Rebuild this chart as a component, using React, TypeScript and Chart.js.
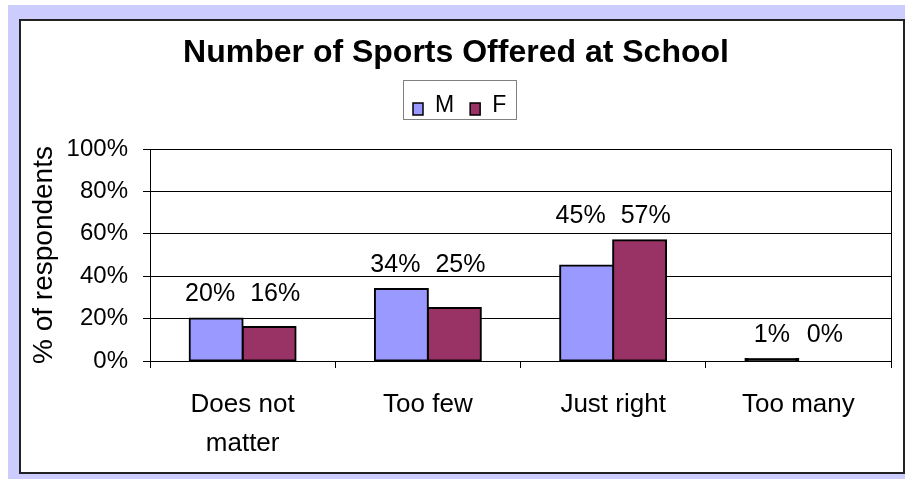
import React, { useEffect, useRef } from 'react';
import { Chart, registerables } from 'chart.js';

Chart.register(...registerables);

const categories: (string | string[])[] = [['Does not', 'matter'], 'Too few', 'Just right', 'Too many'];
const seriesNames = ['M', 'F'];
const maleValues = [20, 34, 45, 1];
const femaleValues = [16, 25, 57, 0];
const yTicks = [0, 20, 40, 60, 80, 100];
const chartTitle = 'Number of Sports Offered at School';
const yAxisTitle = '% of respondents';

const FONT = '"Liberation Sans", Arial, sans-serif';
const SERIES_COLORS = ['#9999FF', '#993366'];

// a bar thinner than its own outline shows only the outline (black)
const fillFor = (color: string) => (c: any) => (c.raw !== undefined && c.raw <= 1 ? '#000' : color);

const decorPlugin = {
  id: 'decor',
  afterDatasetsDraw(chart: any) {
    const { ctx, chartArea } = chart;
    ctx.save();
    // right border of the plot area
    ctx.strokeStyle = '#000';
    ctx.lineWidth = 1;
    ctx.beginPath();
    const rx = Math.round(chartArea.right) + 0.5;
    ctx.moveTo(rx, Math.round(chartArea.top));
    ctx.lineTo(rx, Math.round(chartArea.bottom) + 1);
    ctx.stroke();

    // data labels: above the tallest bar of each category, spread apart if crowded
    ctx.font = `25px ${FONT}`;
    ctx.fillStyle = '#000';
    ctx.textAlign = 'center';
    ctx.textBaseline = 'middle';
    const minGap = 15;
    const metas = chart.data.datasets.map((_: any, i: number) => chart.getDatasetMeta(i));
    const n = chart.data.labels.length;
    for (let j = 0; j < n; j++) {
      const top = Math.min(...metas.map((m: any) => m.data[j].y));
      const labels = metas.map((m: any, di: number) => {
        const text = `${chart.data.datasets[di].data[j]}%`;
        return { text, x: m.data[j].x, w: ctx.measureText(text).width };
      });
      for (let k = 1; k < labels.length; k++) {
        const a = labels[k - 1], b = labels[k];
        const gapNow = (b.x - b.w / 2) - (a.x + a.w / 2);
        if (gapNow < minGap) {
          const push = (minGap - gapNow) / 2;
          a.x -= push;
          b.x += push;
        }
      }
      labels.forEach((l: any) => ctx.fillText(l.text, l.x, top - 24));
    }

    // boxed legend
    ctx.font = `23px ${FONT}`;
    const padX = 10, sq = 10, gap = 12, itemGap = 16;
    const items = chart.data.datasets.map((d: any, i: number) => ({ text: d.label, color: SERIES_COLORS[i] }));
    let w = padX * 2;
    items.forEach((it: any, i: number) => {
      w += sq + gap + ctx.measureText(it.text).width + (i ? itemGap : 0);
    });
    const boxTop = 59, boxH = 39;
    let x = Math.round(chart.width / 2 - w / 2) - 2;
    ctx.strokeStyle = '#808080';
    ctx.lineWidth = 1;
    ctx.strokeRect(x + 0.5, boxTop + 0.5, Math.round(w), boxH);
    x += padX;
    const textY = 85;
    items.forEach((it: any, i: number) => {
      if (i) x += itemGap;
      ctx.fillStyle = it.color;
      ctx.fillRect(x, textY - 3, sq, 12);
      ctx.strokeStyle = '#000';
      ctx.lineWidth = 1.5;
      ctx.strokeRect(x, textY - 3, sq, 12);
      x += sq + gap;
      ctx.fillStyle = '#000';
      ctx.textAlign = 'left';
      ctx.fillText(it.text, x, textY);
      x += ctx.measureText(it.text).width;
    });
    ctx.restore();
  },
};

export default function App() {
  const ref = useRef<HTMLCanvasElement | null>(null);

  useEffect(() => {
    if (!ref.current) return;
    const chart = new Chart(ref.current, {
      type: 'bar',
      data: {
        labels: categories,
        datasets: [
          {
            label: seriesNames[0],
            data: maleValues,
            backgroundColor: fillFor(SERIES_COLORS[0]),
            borderColor: '#000',
            borderWidth: 2,
            borderSkipped: false,
            inflateAmount: 1,
          },
          {
            label: seriesNames[1],
            data: femaleValues,
            backgroundColor: fillFor(SERIES_COLORS[1]),
            borderColor: '#000',
            borderWidth: 2,
            borderSkipped: false,
            inflateAmount: 1,
          },
        ],
      },
      options: {
        animation: false,
        responsive: false,
        maintainAspectRatio: false,
        devicePixelRatio: 1,
        layout: { padding: { top: 0, right: 12, bottom: 0, left: 0 } },
        datasets: { bar: { categoryPercentage: 0.572, barPercentage: 1 } },
        plugins: {
          legend: { display: false },
          tooltip: { enabled: false },
          title: {
            display: true,
            text: chartTitle,
            color: '#000',
            font: { family: FONT, size: 32, weight: 'bold', lineHeight: 1.2 },
            padding: { top: 13, bottom: 76.6 },
          },
        },
        scales: {
          x: {
            grid: {
              display: true,
              drawOnChartArea: false,
              drawTicks: true,
              tickLength: 7,
              color: '#000',
              offset: true,
            },
            border: { display: true, color: '#000', width: 1 },
            ticks: {
              color: '#000',
              font: { family: FONT, size: 26, lineHeight: 39 / 26 },
              padding: 17,
              maxRotation: 0,
              autoSkip: false,
            },
            afterFit: (s: any) => {
              s.height = 111;
            },
          },
          y: {
            min: 0,
            max: 100,
            grid: { color: '#000', tickLength: 7, drawTicks: true },
            border: { display: true, color: '#000', width: 1 },
            ticks: {
              color: '#000',
              font: { family: FONT, size: 24 },
              padding: 15,
              callback: (v: any) => `${v}%`,
            },
            afterBuildTicks: (s: any) => {
              s.ticks = yTicks.map((v) => ({ value: v }));
            },
            title: {
              display: true,
              text: yAxisTitle,
              color: '#000',
              font: { family: FONT, size: 28, lineHeight: 1.2 },
              padding: { top: 6, bottom: 0 },
            },
            afterFit: (s: any) => {
              s.width = 129;
            },
          },
        },
      } as any,
      plugins: [decorPlugin],
    });
    return () => chart.destroy();
  }, []);

  return (
    <div style={{ position: 'fixed', left: 0, top: 0, width: 905, height: 479, background: '#fff', overflow: 'hidden' }}>
      <div style={{ position: 'absolute', left: 8, top: 5, right: 0, bottom: 0, background: '#CCCCFF' }} />
      <div
        style={{
          position: 'absolute',
          left: 19,
          top: 19,
          width: 886,
          height: 455,
          boxSizing: 'border-box',
          border: '2px solid #222',
          background: '#fff',
        }}
      >
        <canvas ref={ref} width={882} height={451} style={{ display: 'block', width: 882, height: 451 }} />
      </div>
    </div>
  );
}
